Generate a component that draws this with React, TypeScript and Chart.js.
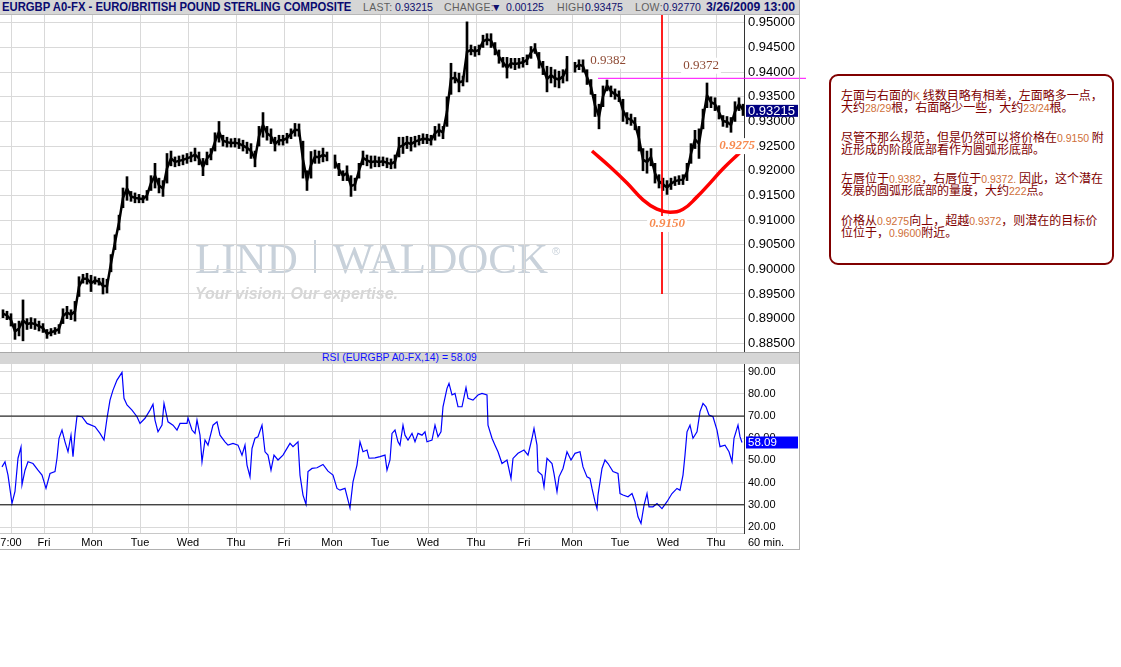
import React, { useEffect, useMemo, useRef } from "react";
import { Chart, registerables } from "chart.js";

Chart.register(...registerables);

const SANS = "'Liberation Sans', Arial, sans-serif";
const SERIF = "'Liberation Serif', 'Times New Roman', serif";
Chart.defaults.font.family = SANS;

// time axis in half-hour units from the left edge
const dayTicks = [11, 44, 92, 140, 188, 236, 284, 332, 380, 428, 476, 524, 572, 620, 668, 716];
const dayLabels = ["7:00", "Fri", "Mon", "Tue", "Wed", "Thu", "Fri", "Mon", "Tue", "Wed", "Thu", "Fri", "Mon", "Tue", "Wed", "Thu"];
const priceTicks = [0.885, 0.89, 0.895, 0.9, 0.905, 0.91, 0.915, 0.92, 0.925, 0.93, 0.935, 0.94, 0.945, 0.95];
const rsiTicks = [20, 30, 40, 50, 60, 70, 80, 90];

// 2-hour price ranges (low / high)
const priceLow = [
  0.8902, 0.8898, 0.8885, 0.8858, 0.8865, 0.8855, 0.8878, 0.888, 0.8878, 0.8875,
  0.8872, 0.886, 0.8865, 0.8868, 0.887, 0.889, 0.89, 0.8898, 0.8895, 0.8945,
  0.8972, 0.897, 0.8955, 0.897, 0.8968, 0.895, 0.8952, 0.8995, 0.904, 0.908,
  0.9125, 0.914, 0.9138, 0.9135, 0.9135, 0.9135, 0.914, 0.916, 0.9165, 0.9155,
  0.9148, 0.9175, 0.921, 0.9208, 0.921, 0.9212, 0.9215, 0.9218, 0.922, 0.9212,
  0.919, 0.9212, 0.9222, 0.924, 0.9258, 0.925, 0.9248, 0.9248, 0.9248, 0.9245,
  0.924, 0.9235, 0.9225, 0.9208, 0.925, 0.9268, 0.9262, 0.9255, 0.924, 0.9252,
  0.9252, 0.9256, 0.9265, 0.927, 0.927, 0.9185, 0.916, 0.9185, 0.9215, 0.9215,
  0.9218, 0.922, null, 0.9205, 0.919, 0.918, 0.918, 0.9148, 0.916, 0.9185,
  0.9212, 0.921, 0.9205, 0.9208, 0.9208, 0.921, 0.9206, 0.9204, 0.9205, 0.9228,
  0.9235, 0.9245, 0.924, 0.9248, 0.9252, 0.9255, 0.9255, 0.9252, 0.9262, 0.927,
  0.9265, 0.929, 0.9355, 0.9378, 0.936, 0.9372, 0.938, 0.9435, 0.9432, 0.9435,
  0.945, 0.9455, 0.945, 0.9435, 0.9418, 0.941, 0.9388, 0.9408, 0.9405, 0.9408,
  0.941, 0.9415, 0.9428, 0.9438, 0.9408, 0.9395, 0.936, 0.9378, 0.937, 0.9368,
  0.9378, 0.9382, null, 0.94, 0.9405, 0.94, 0.9375, 0.9355, 0.931, 0.9285,
  0.933, 0.9362, 0.935, 0.9345, 0.934, 0.93, 0.9295, 0.9292, 0.9283, 0.924,
  0.92, 0.9195, 0.921, 0.9175, 0.9165, 0.916, 0.9152, 0.9162, 0.917, 0.9172,
  0.9172, 0.918, 0.9215, 0.9245, 0.9225, 0.9285, 0.9328, 0.9328, 0.9322, 0.9305,
  0.929, 0.9288, 0.9278, 0.93, 0.9322, 0.9312,
];
const priceHigh = [
  0.8918, 0.8915, 0.891, 0.889, 0.8895, 0.8938, 0.89, 0.8902, 0.89, 0.8895,
  0.889, 0.8878, 0.888, 0.8882, 0.8888, 0.892, 0.8925, 0.8918, 0.8935, 0.8985,
  0.899, 0.8992, 0.8988, 0.8985, 0.8982, 0.8982, 0.898, 0.903, 0.907, 0.911,
  0.9165, 0.9188, 0.9158, 0.9155, 0.9152, 0.915, 0.916, 0.919, 0.9215, 0.9185,
  0.918, 0.9235, 0.924, 0.9228, 0.923, 0.9232, 0.9235, 0.9238, 0.9246, 0.9238,
  0.9225, 0.9238, 0.9245, 0.9277, 0.93, 0.9272, 0.9268, 0.9265, 0.9266, 0.9265,
  0.9262, 0.9258, 0.9255, 0.924, 0.929, 0.9318, 0.929, 0.9285, 0.9268, 0.9272,
  0.9272, 0.9276, 0.9285, 0.9296, 0.9295, 0.926, 0.92, 0.9239, 0.9242, 0.924,
  0.9246, 0.9238, null, 0.9232, 0.9215, 0.92, 0.921, 0.919, 0.9185, 0.9215,
  0.924, 0.9232, 0.923, 0.923, 0.9228, 0.9228, 0.9226, 0.9224, 0.9232, 0.9268,
  0.9268, 0.927, 0.9268, 0.927, 0.9272, 0.9275, 0.9274, 0.9272, 0.929, 0.9295,
  0.929, 0.935, 0.9418, 0.94, 0.9398, 0.9392, 0.9502, 0.9455, 0.9452, 0.9455,
  0.9475, 0.9478, 0.9478, 0.946, 0.9445, 0.943, 0.943, 0.9428, 0.9428, 0.9428,
  0.943, 0.9435, 0.9452, 0.9458, 0.944, 0.9422, 0.9412, 0.941, 0.9405, 0.9402,
  0.9405, 0.9432, null, 0.942, 0.9425, 0.9425, 0.9405, 0.9385, 0.9355, 0.9335,
  0.9372, 0.9384, 0.9372, 0.9366, 0.9362, 0.9345, 0.9318, 0.9315, 0.9308, 0.929,
  0.9245, 0.924, 0.9245, 0.9215, 0.9192, 0.9185, 0.918, 0.9185, 0.9188, 0.919,
  0.9192, 0.9215, 0.9255, 0.9282, 0.9285, 0.9325, 0.9378, 0.935, 0.9348, 0.9332,
  0.9312, 0.931, 0.9308, 0.934, 0.9348, 0.9335,
];
const lastPrice = 0.93215;

// RSI(14) path
const rsiTime = [
  2, 5, 8, 12, 15, 18, 21, 22, 25, 28,
  33, 38, 42, 46, 50, 55, 57, 59, 62, 65,
  68, 71, 73, 75, 77, 82, 87, 95, 100, 104,
  107, 110, 113, 117, 122, 124, 127, 132, 137, 140,
  145, 150, 153, 155, 158, 162, 164, 168, 173, 177,
  180, 187, 188, 192, 195, 197, 200, 202, 205, 208,
  213, 217, 220, 225, 228, 233, 238, 242, 245, 247,
  250, 252, 255, 258, 262, 265, 268, 271, 274, 278,
  283, 290, 293, 298, 300, 303, 306, 308, 312, 317,
  323, 328, 333, 337, 340, 345, 348, 350, 353, 357,
  360, 363, 367, 369, 375, 380, 385, 387, 390, 392,
  395, 398,
  400, 403, 405, 408, 412, 415, 418, 422, 425, 427,
  432, 435, 438, 441, 443, 447, 449, 452, 455, 458,
  462, 466, 468, 473, 478, 482, 487, 488, 492, 495,
  498, 502, 507, 511, 513, 518, 524, 528, 532, 534,
  537, 538, 542, 544, 547, 552, 554, 557, 559, 563,
  567, 571, 575, 580, 583, 587, 590, 592, 595, 597,
  598, 602, 605, 608, 613, 618, 620, 623, 628, 632,
  635, 638, 641, 644, 647, 649, 653, 657, 662, 667,
  672, 677, 680, 683, 685, 687, 690, 693, 697, 700,
  703, 706, 709, 713, 717, 720, 725, 729, 732, 734,
  738, 740, 742,
];
const rsiValue = [
  47.1, 49.4, 43.4, 30.6, 36, 51, 56, 39, 45.6, 49.4,
  48.6, 45.6, 43.4, 37.4, 44.1, 45, 51, 60, 63.7, 58.4,
  53.9, 61.4, 51.7, 62.2, 70, 69.7, 66.7, 65.2, 62.2, 59.2,
  69, 77.2, 81.7, 86.2, 89.7, 78, 75, 72.7, 69.7, 66.7,
  69, 72.7, 75.3, 68.2, 62.9, 65.9, 75.7, 67.4, 65.9, 63.7,
  66.7, 66.7, 69.2, 63.7, 62.2, 68.2, 61.4, 49.4, 59.2, 56.9,
  65.9, 67.4, 61.4, 58.4, 56.9, 57.7, 56.9, 52.4, 56.9, 47.9,
  42.6, 55.4, 60, 60.7, 65.9, 53.9, 52.4, 45.6, 52.4, 50.2,
  52.4, 57.7, 56.2, 58.4, 43.4, 34.4, 30.2, 45, 46.4, 46.7,
  48.2, 45.2, 43.4, 37.4, 36.6, 37.4, 32.1, 28.6, 40.4, 47.9,
  58.4, 53.9, 54.7, 51, 51.2, 51.7, 52.4, 45.6, 50.2, 62.2,
  63.7, 58.4,
  56.9, 65.9, 61.4, 59.2, 62.2, 58.4, 62.2, 61.4, 62.9, 58.4,
  59.2, 65.9, 60.7, 62.9, 74.2, 82.5, 84.7, 79.5, 80.2, 74.2,
  74.2, 82.8, 78, 77.2, 79.5, 80.2, 79.5, 65.9, 60, 56.9,
  53.9, 48.6, 50.2, 41.9, 50.9, 53.2, 54.7, 52.4, 60, 64.4,
  56.9, 45, 43.4, 38.1, 50.9, 48.6, 44.1, 35.9, 42.6, 46.4,
  53.9, 50.2, 53.2, 53.9, 47.1, 42.6, 41.9, 37.4, 31.4, 28.3,
  34.4, 46.4, 50.2, 48.6, 45, 44.1, 35.1, 34.4, 33.6, 35.1,
  31.4, 24.6, 21.6, 29.8, 35.1, 29.1, 29.1, 30.6, 28.3, 31.4,
  35.1, 37.4, 36.6, 43.4, 52.4, 62.9, 65.9, 60, 62.9, 72,
  75.7, 74.2, 70.5, 69.7, 63.7, 56.2, 56.9, 53.9, 49.4, 60,
  65.9, 60.7, 58.09,
];
const lastRsi = 58.09;
const rsiBands = [70, 30];

// header quote fields
const quoteLabels = ["LAST:", "CHANGE:", "HIGH:", "LOW:"];
const quoteValues = ["0.93215", "\u25BC", "0.93475", "0.92770"];
const quoteLabelLeft = [363, 444, 557, 635];
const quoteValueLeft = [395, 491, 585, 663];
const changeValue = "0.00125";
const changeValueLeft = 506;

// annotations
const curveTime = [592, 610, 627, 643, 657, 670, 683, 697, 710, 723, 740];
const curvePrice = [0.924, 0.9208, 0.9175, 0.9141, 0.9122, 0.9116, 0.9122, 0.9147, 0.9175, 0.9204, 0.9237];
const lipLevel = 0.93875;
const lipTimes = [598, 806];
const bottomTime = 662;
const bottomSpan = [0.9516, 0.895];
const noteTexts = ["0.9382", "0.9372", "0.9275", "0.9150"];
const noteTimes = [608, 701, 737, 667];
const notePrices = [0.9423, 0.9413, 0.925, 0.9092];
const noteKinds = ["plain", "plain", "accent", "accent"];

const priceMin = 0.883235;
const priceMax = 0.951592;
const rsiMin = 17.3;
const rsiMax = 93.47;
const GRID = "#d9d9d9";

const priceOverlay = {
  id: "priceOverlay",
  beforeDraw(chart: any) {
    const { ctx, chartArea: a } = chart;
    ctx.save();
    ctx.textBaseline = "alphabetic";
    ctx.textAlign = "left";
    ctx.fillStyle = "rgb(200,209,218)";
    ctx.font = `43px ${SERIF}`;
    ctx.fillText("LIND", a.left + 195, a.top + 258);
    ctx.fillRect(a.left + 314, a.top + 225, 2, 33);
    ctx.fillText("WALDOCK", a.left + 333, a.top + 258);
    ctx.font = `11px ${SANS}`;
    ctx.fillText("\u00AE", a.left + 552, a.top + 240);
    ctx.fillStyle = "rgb(214,214,214)";
    ctx.font = `italic bold 16px ${SANS}`;
    ctx.fillText("Your vision. Our expertise.", a.left + 195, a.top + 284);
    ctx.restore();
  },
  afterDatasetsDraw(chart: any) {
    const { ctx } = chart;
    const xs = chart.scales.x;
    const ys = chart.scales.y;
    ctx.save();
    noteTexts.forEach((t, i) => {
      const x = xs.getPixelForValue(noteTimes[i]);
      const y = ys.getPixelForValue(notePrices[i]);
      const accent = noteKinds[i] === "accent";
      ctx.font = accent ? `italic bold 13px ${SERIF}` : `13px ${SERIF}`;
      const w = ctx.measureText(t).width;
      ctx.fillStyle = "#ffffff";
      ctx.fillRect(x - w / 2 - 2, y - 8, w + 4, 16);
      ctx.fillStyle = accent ? "#f7894e" : "#8e4a34";
      ctx.textAlign = "center";
      ctx.textBaseline = "middle";
      ctx.fillText(t, x, y);
    });
    ctx.restore();
  },
  afterDraw(chart: any) {
    const { ctx, chartArea: a } = chart;
    const y = chart.scales.y.getPixelForValue(lastPrice);
    ctx.save();
    ctx.fillStyle = "#000080";
    ctx.fillRect(a.right + 2, y - 6, 52, 12);
    ctx.fillStyle = "#ffffff";
    ctx.font = `13px ${SANS}`;
    ctx.textAlign = "left";
    ctx.textBaseline = "middle";
    ctx.fillText(lastPrice.toFixed(5), a.right + 4, y + 0.5);
    ctx.restore();
  },
};

const rsiOverlay = {
  id: "rsiOverlay",
  afterDraw(chart: any) {
    const { ctx, chartArea: a } = chart;
    const y = chart.scales.y.getPixelForValue(lastRsi);
    ctx.save();
    ctx.fillStyle = "#0000ff";
    ctx.fillRect(a.right + 2, y - 6, 52, 12);
    ctx.fillStyle = "#ffffff";
    ctx.font = `11.5px ${SANS}`;
    ctx.textAlign = "left";
    ctx.textBaseline = "middle";
    ctx.fillText(lastRsi.toFixed(2), a.right + 4, y + 0.5);
    ctx.restore();
  },
};

function setTicks(values: number[]) {
  return (s: any) => {
    s.ticks = values.map((v) => ({ value: v }));
  };
}

function PriceChart() {
  const ref = useRef<HTMLCanvasElement>(null);
  useEffect(() => {
    const bars: any[] = [];
    const mids: any[] = [];
    priceLow.forEach((l, i) => {
      const h = priceHigh[i];
      const x = 3 + 4 * i;
      if (l == null || h == null) {
        mids.push({ x, y: null });
        return;
      }
      bars.push({ x, y: [l, h] });
      mids.push({ x, y: (l + h) / 2 });
    });
    const curve = curveTime.map((t, i) => ({ x: t, y: curvePrice[i] }));
    const chart = new Chart(ref.current as HTMLCanvasElement, {
      type: "bar",
      data: {
        datasets: [
          {
            type: "line",
            data: lipTimes.map((t) => ({ x: t, y: lipLevel })),
            borderColor: "#ff00ff",
            borderWidth: 1,
            pointRadius: 0,
            clip: false,
            order: 0,
          } as any,
          {
            type: "line",
            data: bottomSpan.map((p) => ({ x: bottomTime, y: p })),
            borderColor: "#ff0000",
            borderWidth: 1,
            pointRadius: 0,
            clip: false,
            order: 0,
          } as any,
          {
            type: "line",
            data: curve,
            borderColor: "#ff0000",
            borderWidth: 3.5,
            tension: 0.45,
            pointRadius: 0,
            order: 0,
          } as any,
          {
            type: "line",
            data: mids,
            borderColor: "#000000",
            borderWidth: 2.5,
            pointRadius: 0,
            tension: 0,
            spanGaps: false,
            order: 1,
          } as any,
          {
            type: "bar",
            data: bars,
            backgroundColor: "#000000",
            borderWidth: 0,
            barThickness: 2,
            order: 2,
          } as any,
        ],
      },
      options: {
        animation: false,
        responsive: false,
        events: [],
        layout: { padding: 0 },
        plugins: { legend: { display: false }, tooltip: { enabled: false } },
        scales: {
          x: {
            type: "linear",
            min: 0,
            max: 744,
            offset: false,
            grid: { color: GRID, drawTicks: false, offset: false },
            border: { display: false },
            ticks: { display: false },
            afterBuildTicks: setTicks(dayTicks),
            afterFit: (s: any) => {
              s.height = 0;
              s.paddingLeft = 0;
              s.paddingRight = 0;
            },
          },
          y: {
            position: "right",
            min: priceMin,
            max: priceMax,
            grid: { color: GRID, drawTicks: false },
            border: { display: true, color: "#333333" },
            ticks: {
              padding: 4,
              color: "#000000",
              font: { size: 13 },
              callback: (v: any) => Number(v).toFixed(5),
            },
            afterBuildTicks: setTicks(priceTicks),
            afterFit: (s: any) => {
              s.width = 66;
              s.paddingTop = 0;
              s.paddingBottom = 0;
            },
          },
        },
      } as any,
      plugins: [priceOverlay],
    });
    return () => chart.destroy();
  }, []);
  return <canvas ref={ref} width={810} height={337} style={{ position: "absolute", left: 0, top: 15 }} />;
}

function RsiChart() {
  const ref = useRef<HTMLCanvasElement>(null);
  useEffect(() => {
    const chart = new Chart(ref.current as HTMLCanvasElement, {
      type: "line",
      data: {
        datasets: [
          ...rsiBands.map((b) => ({
            data: [
              { x: 0, y: b },
              { x: 744, y: b },
            ],
            borderColor: "#000000",
            borderWidth: 1,
            pointRadius: 0,
          })),
          {
            data: rsiTime.map((t, i) => ({ x: t, y: rsiValue[i] })),
            borderColor: "#0000ff",
            borderWidth: 1.2,
            pointRadius: 0,
            tension: 0,
          },
        ],
      },
      options: {
        animation: false,
        responsive: false,
        events: [],
        layout: { padding: 0 },
        plugins: { legend: { display: false }, tooltip: { enabled: false } },
        scales: {
          x: {
            type: "linear",
            min: 0,
            max: 744,
            grid: { color: GRID, drawTicks: false },
            border: { display: true, color: "#c8c8c8" },
            ticks: {
              color: "#000000",
              font: { size: 11 },
              padding: 3,
              autoSkip: false,
              maxRotation: 0,
              callback: (v: any) => dayLabels[dayTicks.indexOf(Number(v))],
            },
            afterBuildTicks: setTicks(dayTicks),
            afterFit: (s: any) => {
              s.height = 16;
              s.paddingLeft = 0;
              s.paddingRight = 0;
            },
          },
          y: {
            position: "right",
            min: rsiMin,
            max: rsiMax,
            grid: { color: GRID, drawTicks: false },
            border: { display: true, color: "#333333" },
            ticks: {
              padding: 4,
              color: "#000000",
              font: { size: 11 },
              callback: (v: any) => Number(v).toFixed(2),
            },
            afterBuildTicks: setTicks(rsiTicks),
            afterFit: (s: any) => {
              s.width = 66;
              s.paddingTop = 0;
              s.paddingBottom = 0;
            },
          },
        },
      } as any,
      plugins: [rsiOverlay],
    });
    return () => chart.destroy();
  }, []);
  return <canvas ref={ref} width={810} height={185} style={{ position: "absolute", left: 0, top: 364 }} />;
}

// text squeezed horizontally to a given width (condensed header look)
function FitText(props: { text: string; font: string; width: number; style: React.CSSProperties }) {
  const { text, font, width, style } = props;
  const scale = useMemo(() => {
    const ctx = document.createElement("canvas").getContext("2d");
    if (!ctx) return 1;
    ctx.font = font;
    const w = ctx.measureText(text).width;
    return w > 0 ? width / w : 1;
  }, [text, font, width]);
  return (
    <div
      style={{
        ...style,
        position: "absolute",
        font,
        whiteSpace: "nowrap",
        transform: `scaleX(${scale})`,
        transformOrigin: "left top",
      }}
    >
      {text}
    </div>
  );
}

const noteLines = [
  "左面与右面的K 线数目略有相差，左面略多一点，",
  "大约28/29根，右面略少一些，大约23/24根。",
  "尽管不那么规范，但是仍然可以将价格在0.9150 附",
  "近形成的阶段底部看作为圆弧形底部。",
  "左唇位于0.9382，右唇位于0.9372. 因此，这个潜在",
  "发展的圆弧形底部的量度，大约222点。",
  "价格从0.9275向上，超越0.9372，则潜在的目标价",
  "位位于，0.9600附近。",
];
const noteLineTops = [89, 101, 131, 143, 172, 184, 214, 226];

function colorRuns(s: string) {
  return s.split(/([0-9A-Za-z./]+)/).map((part, i) =>
    /^[0-9A-Za-z./]+$/.test(part) ? (
      <span key={i} style={{ color: "#cf6f38", fontFamily: SANS, fontSize: 10.5 }}>
        {part}
      </span>
    ) : (
      <span key={i}>{part}</span>
    )
  );
}

const HEAD_FONT = `bold 12.5px ${SANS}`;
const quoteValueStyle: React.CSSProperties = {
  position: "absolute",
  top: 1,
  fontSize: 10.5,
  lineHeight: "13px",
  color: "#10106e",
  whiteSpace: "nowrap",
};

export default function App() {
  return (
    <div
      style={{
        position: "absolute",
        left: 0,
        top: 0,
        width: 1121,
        height: 667,
        background: "#ffffff",
        overflow: "hidden",
        fontFamily: SANS,
      }}
    >
      {/* header */}
      <div
        style={{
          position: "absolute",
          left: 0,
          top: 0,
          width: 800,
          height: 14,
          background: "#d6d6d6",
          borderBottom: "1px solid #b8b8b8",
        }}
      />
      <FitText
        text="EURGBP A0-FX - EURO/BRITISH POUND STERLING COMPOSITE"
        font={HEAD_FONT}
        width={350}
        style={{ left: 2, top: 0, lineHeight: "15px", color: "#0a0a70" }}
      />
      {quoteLabels.map((t, i) => (
        <div
          key={"l" + i}
          style={{
            position: "absolute",
            left: quoteLabelLeft[i],
            top: 1,
            fontSize: 10.5,
            lineHeight: "13px",
            letterSpacing: 0.3,
            color: "#5e5e5e",
            whiteSpace: "nowrap",
          }}
        >
          {t}
        </div>
      ))}
      {quoteValues.map((t, i) => (
        <div key={"v" + i} style={{ ...quoteValueStyle, left: quoteValueLeft[i] }}>
          {t}
        </div>
      ))}
      <div style={{ ...quoteValueStyle, left: changeValueLeft }}>{changeValue}</div>
      <FitText
        text="3/26/2009 13:00"
        font={HEAD_FONT}
        width={89}
        style={{ left: 706, top: 0, lineHeight: "15px", color: "#0a0a70" }}
      />

      <PriceChart />

      {/* RSI title bar */}
      <div
        style={{
          position: "absolute",
          left: 0,
          top: 352,
          width: 800,
          height: 11,
          background: "#d6d6d6",
          borderTop: "1px solid #a8a8a8",
        }}
      />
      <div
        style={{
          position: "absolute",
          left: 322,
          top: 352,
          fontSize: 10.4,
          lineHeight: "12px",
          color: "#1010ff",
          whiteSpace: "nowrap",
        }}
      >
        RSI (EURGBP A0-FX,14) = 58.09
      </div>

      <RsiChart />

      <div style={{ position: "absolute", left: 748, top: 536, fontSize: 11, lineHeight: "12px", color: "#000" }}>
        60 min.
      </div>

      {/* outer frame */}
      <div
        style={{
          position: "absolute",
          left: 0,
          top: 0,
          width: 800,
          height: 550,
          borderRight: "1px solid #b0b0b0",
          borderBottom: "1px solid #b0b0b0",
          boxSizing: "border-box",
          pointerEvents: "none",
        }}
      />

      {/* commentary box */}
      <div
        style={{
          position: "absolute",
          left: 829,
          top: 74,
          width: 285,
          height: 191,
          border: "2px solid #800000",
          borderRadius: 9,
          boxSizing: "border-box",
        }}
      />
      {noteLines.map((line, i) => (
        <div
          key={i}
          style={{
            position: "absolute",
            left: 841,
            top: noteLineTops[i],
            fontFamily: "'Noto Sans CJK SC', sans-serif",
            fontSize: 12,
            lineHeight: "12px",
            color: "#800000",
            whiteSpace: "nowrap",
          }}
        >
          {colorRuns(line)}
        </div>
      ))}
    </div>
  );
}
